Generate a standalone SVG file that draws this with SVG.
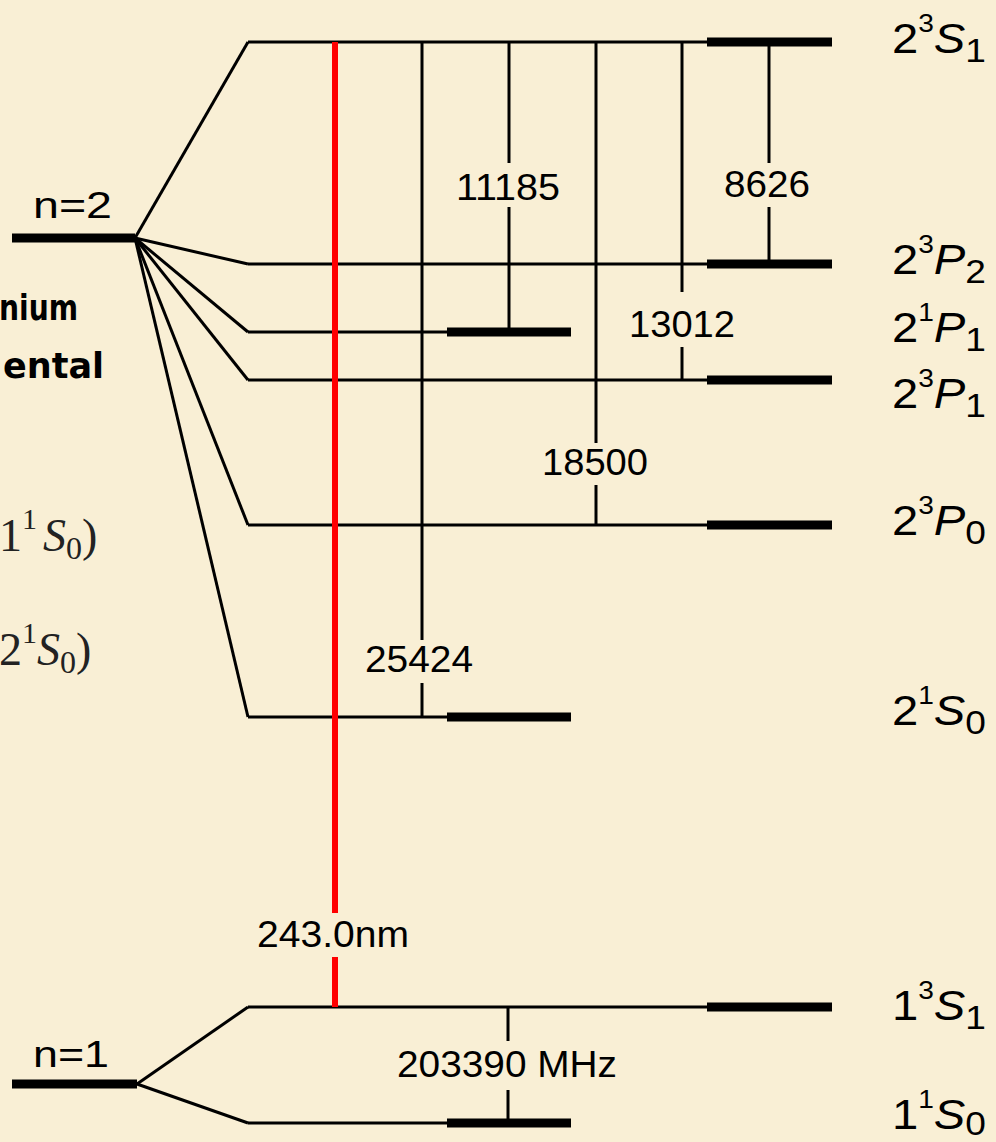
<svg xmlns="http://www.w3.org/2000/svg" width="996" height="1142" viewBox="0 0 996 1142">
<style>
.thin{stroke:#000;stroke-width:3;fill:none;stroke-linecap:butt}
.thick{stroke:#000;stroke-width:9;fill:none}
.red{stroke:#ff0000;stroke-width:6;fill:none}
.lbl{font-family:"Liberation Sans",Arial,sans-serif;font-size:37px;fill:#000}
.st{font-family:"Liberation Sans",Arial,sans-serif;font-size:42px;fill:#000}
.sup{font-size:25px}
.sub{font-size:33px}
.it{font-style:italic}
.comic{font-family:"DejaVu Sans",sans-serif;font-weight:bold;font-size:36px;fill:#000}
.ser{font-family:"Liberation Serif","DejaVu Serif",serif;font-size:46px;fill:#222}
</style>
<rect x="0" y="0" width="996" height="1142" fill="#f9efd5"/>

<g id="side-text">
<text class="comic" x="-1" y="320" textLength="79" lengthAdjust="spacingAndGlyphs">nium</text>
<text class="comic" x="3" y="378" textLength="101" lengthAdjust="spacingAndGlyphs">ental</text>
<text class="ser" x="-1" y="551">1<tspan font-size="30" dy="-22">1</tspan><tspan class="it" dx="6" dy="22">S</tspan><tspan font-size="32" dy="8">0</tspan><tspan dy="-8">)</tspan></text>
<text class="ser" x="-1" y="665">2<tspan font-size="30" dy="-22">1</tspan><tspan class="it" dy="22">S</tspan><tspan font-size="32" dy="8">0</tspan><tspan dy="-8">)</tspan></text>
</g>

<g id="n2">
<line class="thick" x1="12" y1="238" x2="135" y2="238" stroke-width="10"/>
<text class="lbl" x="33" y="218" textLength="79" lengthAdjust="spacingAndGlyphs">n=2</text>
</g>
<g id="n1">
<line class="thick" x1="12" y1="1084" x2="137" y2="1084" stroke-width="10"/>
<text class="lbl" x="33" y="1067" textLength="76" lengthAdjust="spacingAndGlyphs">n=1</text>
</g>

<g id="lvl-23S1">
<line class="thin" x1="248" y1="42" x2="710" y2="42"/>
<line class="thick" x1="707" y1="42" x2="832" y2="42"/>
<text class="st" x="892" y="53" textLength="94" lengthAdjust="spacingAndGlyphs">2<tspan class="sup" dy="-21">3</tspan><tspan class="it" dy="21">S</tspan><tspan class="sub" dy="9">1</tspan></text>
</g>
<g id="lvl-23P2">
<line class="thin" x1="248" y1="264" x2="710" y2="264"/>
<line class="thick" x1="707" y1="264" x2="832" y2="264"/>
<text class="st" x="892" y="274" textLength="94" lengthAdjust="spacingAndGlyphs">2<tspan class="sup" dy="-21">3</tspan><tspan class="it" dy="21">P</tspan><tspan class="sub" dy="9">2</tspan></text>
</g>
<g id="lvl-21P1">
<line class="thin" x1="248" y1="332" x2="450" y2="332"/>
<line class="thick" x1="447" y1="332" x2="571" y2="332"/>
<text class="st" x="892" y="342" textLength="94" lengthAdjust="spacingAndGlyphs">2<tspan class="sup" dy="-21">1</tspan><tspan class="it" dy="21">P</tspan><tspan class="sub" dy="9">1</tspan></text>
</g>
<g id="lvl-23P1">
<line class="thin" x1="248" y1="380" x2="710" y2="380"/>
<line class="thick" x1="707" y1="380" x2="832" y2="380"/>
<text class="st" x="892" y="408" textLength="94" lengthAdjust="spacingAndGlyphs">2<tspan class="sup" dy="-21">3</tspan><tspan class="it" dy="21">P</tspan><tspan class="sub" dy="9">1</tspan></text>
</g>
<g id="lvl-23P0">
<line class="thin" x1="248" y1="525" x2="710" y2="525"/>
<line class="thick" x1="707" y1="525" x2="832" y2="525"/>
<text class="st" x="892" y="535" textLength="94" lengthAdjust="spacingAndGlyphs">2<tspan class="sup" dy="-21">3</tspan><tspan class="it" dy="21">P</tspan><tspan class="sub" dy="9">0</tspan></text>
</g>
<g id="lvl-21S0">
<line class="thin" x1="248" y1="717" x2="450" y2="717"/>
<line class="thick" x1="447" y1="717" x2="571" y2="717"/>
<text class="st" x="892" y="725" textLength="94" lengthAdjust="spacingAndGlyphs">2<tspan class="sup" dy="-21">1</tspan><tspan class="it" dy="21">S</tspan><tspan class="sub" dy="9">0</tspan></text>
</g>
<g id="lvl-13S1">
<line class="thin" x1="248" y1="1007" x2="710" y2="1007"/>
<line class="thick" x1="707" y1="1007" x2="832" y2="1007"/>
<text class="st" x="892" y="1020" textLength="94" lengthAdjust="spacingAndGlyphs">1<tspan class="sup" dy="-21">3</tspan><tspan class="it" dy="21">S</tspan><tspan class="sub" dy="9">1</tspan></text>
</g>
<g id="lvl-11S0">
<line class="thin" x1="248" y1="1123" x2="450" y2="1123"/>
<line class="thick" x1="447" y1="1123" x2="571" y2="1123"/>
<text class="st" x="892" y="1129" textLength="94" lengthAdjust="spacingAndGlyphs">1<tspan class="sup" dy="-21">1</tspan><tspan class="it" dy="21">S</tspan><tspan class="sub" dy="6">0</tspan></text>
</g>

<g id="connectors">
<line class="thin" x1="135" y1="238" x2="248" y2="42"/>
<line class="thin" x1="135" y1="238" x2="248" y2="264"/>
<line class="thin" x1="135" y1="238" x2="248" y2="332"/>
<line class="thin" x1="135" y1="238" x2="248" y2="380"/>
<line class="thin" x1="135" y1="238" x2="248" y2="525"/>
<line class="thin" x1="135" y1="238" x2="248" y2="717"/>
<line class="thin" x1="137" y1="1084" x2="248" y2="1007"/>
<line class="thin" x1="137" y1="1084" x2="248" y2="1123"/>

<line class="thin" x1="422" y1="42" x2="422" y2="640"/>
<line class="thin" x1="422" y1="683" x2="422" y2="717"/>
<line class="thin" x1="509" y1="42" x2="509" y2="163"/>
<line class="thin" x1="509" y1="207" x2="509" y2="332"/>
<line class="thin" x1="596" y1="42" x2="596" y2="443"/>
<line class="thin" x1="596" y1="485" x2="596" y2="525"/>
<line class="thin" x1="682" y1="42" x2="682" y2="292"/>
<line class="thin" x1="682" y1="347" x2="682" y2="380"/>
<line class="thin" x1="769" y1="42" x2="769" y2="163"/>
<line class="thin" x1="769" y1="207" x2="769" y2="264"/>
<line class="thin" x1="508" y1="1007" x2="508" y2="1041"/>
<line class="thin" x1="508" y1="1090" x2="508" y2="1123"/>
<line class="red" x1="335" y1="42" x2="335" y2="913"/>
<line class="red" x1="335" y1="957" x2="335" y2="1007"/>

<text class="lbl" x="508" y="200" text-anchor="middle" textLength="104" lengthAdjust="spacingAndGlyphs">11185</text>
<text class="lbl" x="767" y="197" text-anchor="middle" textLength="86" lengthAdjust="spacingAndGlyphs">8626</text>
<text class="lbl" x="682" y="337" text-anchor="middle" textLength="106" lengthAdjust="spacingAndGlyphs">13012</text>
<text class="lbl" x="595" y="475" text-anchor="middle" textLength="106" lengthAdjust="spacingAndGlyphs">18500</text>
<text class="lbl" x="419" y="672" text-anchor="middle" textLength="108" lengthAdjust="spacingAndGlyphs">25424</text>
<text class="lbl" x="333" y="947" text-anchor="middle" textLength="152" lengthAdjust="spacingAndGlyphs">243.0nm</text>
<text class="lbl" x="507" y="1077" text-anchor="middle" textLength="220" lengthAdjust="spacingAndGlyphs">203390 MHz</text>
</g>
</svg>
